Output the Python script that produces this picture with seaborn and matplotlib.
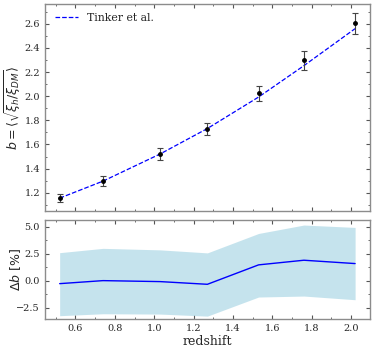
import seaborn as sns
import matplotlib.pyplot as plt
import pandas as pd
from matplotlib.ticker import AutoMinorLocator

# values
redshift = [0.52, 0.74, 1.03, 1.27, 1.53, 1.76, 2.02]
bias = [1.158, 1.299, 1.520, 1.727, 2.023, 2.296, 2.603]
bias_err = [0.033, 0.040, 0.048, 0.051, 0.065, 0.076, 0.087]
tinker = [1.155, 1.296, 1.521, 1.732, 1.993, 2.253, 2.560]
delta_b = [-0.25, 0.03, -0.06, -0.31, 1.49, 1.92, 1.61]
delta_hi = [2.62, 3.02, 2.88, 2.60, 4.40, 5.18, 4.96]
delta_lo = [-3.22, -3.04, -3.07, -3.26, -1.49, -1.40, -1.74]

df = pd.DataFrame({'z': redshift, 'b': bias, 'tinker': tinker, 'db': delta_b})

sns.set_style("ticks")
plt.rcParams['font.family'] = ['DejaVu Serif']
plt.rcParams['xtick.direction'] = 'in'
plt.rcParams['ytick.direction'] = 'in'
plt.rcParams['xtick.top'] = True
plt.rcParams['ytick.right'] = True
plt.rcParams['axes.edgecolor'] = '#8c8c8c'
plt.rcParams['axes.linewidth'] = 1.0

fig = plt.figure(figsize=(3.74, 3.52), dpi=100)
ax1 = fig.add_axes([0.120, 0.400, 0.869, 0.590])
ax2 = fig.add_axes([0.120, 0.093, 0.869, 0.283], sharex=ax1)

# top panel
sns.lineplot(data=df, x='z', y='tinker', ax=ax1, color='blue', linestyle='--',
             linewidth=0.9, label='Tinker et al.')
ax1.errorbar(redshift, bias, yerr=bias_err, fmt='o', color='black', ms=2.5,
             ecolor='#444444', elinewidth=0.8, capsize=2, capthick=0.8)
ax1.set_ylabel(r'$b = \langle\sqrt{\xi_h/\xi_{DM}}\rangle$', family='DejaVu Sans', fontsize=9)
ax1.yaxis.set_label_coords(-0.066, 0.5)
ax1.set_xlabel('')
ax1.tick_params(labelbottom=False)
ax1.legend(loc='upper left', frameon=False, fontsize=7.8, handlelength=2.2)

# bottom panel
ax2.fill_between(redshift, delta_lo, delta_hi, color='lightblue', alpha=0.7, linewidth=0)
sns.lineplot(data=df, x='z', y='db', ax=ax2, color='blue', linewidth=1.0)
ax2.set_ylim(-3.55, 5.68)
ax2.set_yticks([-2.5, 0.0, 2.5, 5.0])
ax2.set_ylabel(r'$\Delta b$ [%]', family='DejaVu Sans', fontsize=9)
ax2.yaxis.set_label_coords(-0.066, 0.5)
ax2.set_xlabel('redshift', fontsize=9, labelpad=1)

for ax in (ax1, ax2):
    ax.xaxis.set_minor_locator(AutoMinorLocator(2))
    ax.yaxis.set_minor_locator(AutoMinorLocator(2))
    ax.tick_params(which='both', labelsize=7, color='#555555')
    ax.tick_params(which='major', length=3)
    ax.tick_params(which='minor', length=1.5)

fig.savefig('out.png', dpi=100)
